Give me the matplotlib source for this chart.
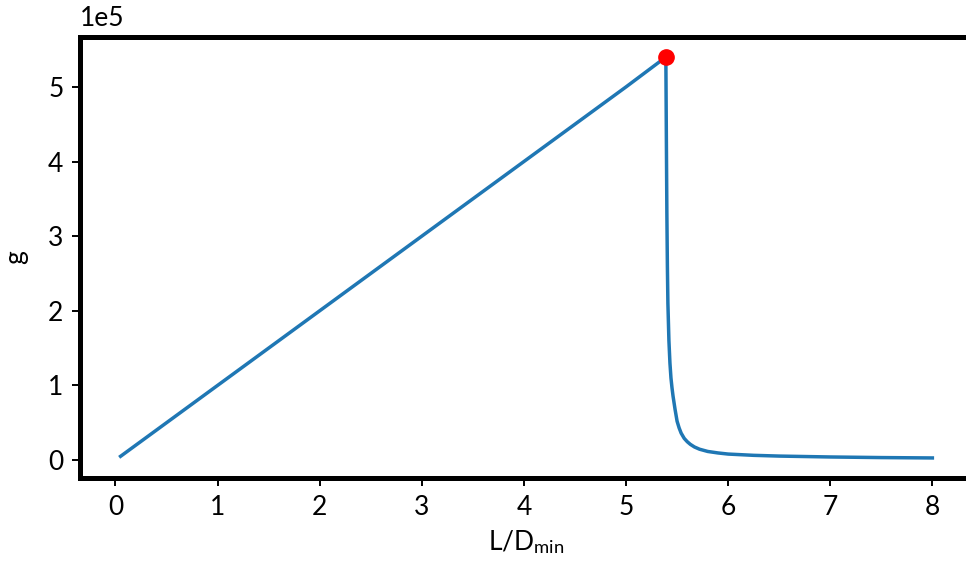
import matplotlib
matplotlib.use('Agg')
import matplotlib.pyplot as plt
import matplotlib.transforms as mtransforms
import numpy as np

# --- Dati (g in unita' di 1e5) ---
L_SU_D = [0.05, 1.0, 2.0, 3.0, 4.0, 5.0, 5.39,
          5.395, 5.40, 5.405, 5.41, 5.42, 5.43, 5.44, 5.45, 5.46, 5.48,
          5.50, 5.52, 5.54, 5.57, 5.60, 5.63, 5.67, 5.72,
          5.80, 5.90, 6.00, 6.25, 6.50, 7.00, 7.50, 8.00]
G_1E5 = [0.05, 1.0, 2.0, 3.0, 4.0, 5.0, 5.40,
         4.3, 3.3, 2.6, 2.1, 1.6, 1.3, 1.1, 0.97, 0.86, 0.68,
         0.52, 0.43, 0.36, 0.29, 0.245, 0.21, 0.175, 0.145,
         0.115, 0.095, 0.08, 0.063, 0.053, 0.041, 0.033, 0.028]
PICCO_X = 5.39
PICCO_G = 5.40
# ---------------------------------------------------

plt.rcParams['font.family'] = ['Lato', 'DejaVu Sans']
plt.rcParams['mathtext.fontset'] = 'custom'
plt.rcParams['mathtext.rm'] = 'Lato'
plt.rcParams['mathtext.it'] = 'Lato:italic'

x = np.array(L_SU_D)
g = np.array(G_1E5) * 1e5

fig = plt.figure(figsize=(9.66, 5.65), dpi=100)
ax = fig.add_axes([0.0828, 0.154, 0.9244, 0.7805])

ax.plot(x, g, color='#1f77b4', linewidth=2.5)
ax.plot(PICCO_X, PICCO_G * 1e5, 'o', color='red', markersize=11, zorder=3)

ax.set_xticks(np.arange(0, 9, 1))
ax.set_yticks(np.arange(0, 6, 1) * 1e5)
ax.ticklabel_format(axis='y', style='sci', scilimits=(0, 0), useMathText=False)

for s in ax.spines.values():
    s.set_linewidth(3.6)
ax.tick_params(labelsize=19, length=6, width=1.4, direction='out', pad=6)

# testo "1e5" un po' piu' in alto
off = ax.yaxis.get_offset_text()
off.set_fontsize(19)
off.set_transform(mtransforms.offset_copy(off.get_transform(), fig=fig, y=5, units='points'))

ax.set_xlabel(r'L/D$_{\rm min}$', fontsize=19, labelpad=6)
ax.set_ylabel('g', fontsize=19, labelpad=14)

fig.savefig('out.png', dpi=100)
